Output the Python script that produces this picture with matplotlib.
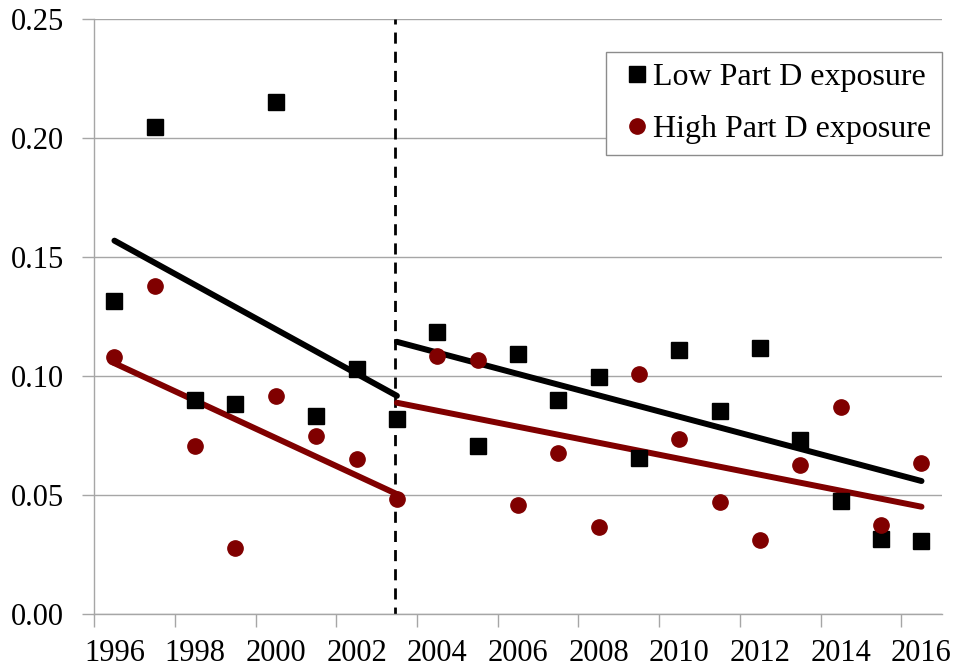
import numpy as np
import matplotlib
matplotlib.use("Agg")
import matplotlib.pyplot as plt

plt.rcParams["font.family"] = ["Liberation Serif", "DejaVu Serif"]

years = np.arange(1996, 2017)

low_exposure = [0.1316, 0.2046, 0.0900, 0.0884, 0.2151, 0.0833, 0.1031,
                0.0821, 0.1185, 0.0708, 0.1094, 0.0900, 0.0998, 0.0655,
                0.1111, 0.0854, 0.1120, 0.0732, 0.0476, 0.0315, 0.0309]
high_exposure = [0.1082, 0.1379, 0.0707, 0.0277, 0.0917, 0.0749, 0.0651,
                 0.0483, 0.1087, 0.1068, 0.0458, 0.0676, 0.0368, 0.1008,
                 0.0737, 0.0473, 0.0312, 0.0626, 0.0872, 0.0375, 0.0634]

# fitted trend endpoints, before / after 2003
trend_pre_x = [1996, 2003]
trend_post_x = [2003, 2016]
low_trend_pre = [0.1570, 0.0918]
low_trend_post = [0.1145, 0.0560]
high_trend_pre = [0.1055, 0.0505]
high_trend_post = [0.0889, 0.0452]

break_year = 2002.95

dark_red = "#800000"
grid_gray = "#a6a6a6"

fig = plt.figure(figsize=(9.56, 6.71), dpi=100)
ax = fig.add_axes([0.0986, 0.0845, 0.8864, 0.8867])

ax.set_xlim(1995.5, 2016.5)
ax.set_ylim(0, 0.25)

ax.set_yticks(np.arange(0, 0.2501, 0.05))
ax.set_yticklabels(["%.2f" % v for v in np.arange(0, 0.2501, 0.05)])
ax.yaxis.grid(True, color=grid_gray, linewidth=1.0)
ax.set_axisbelow(True)

# tick marks between every second category, labels on even years
ax.set_xticks(np.arange(1995.5, 2016, 2))
ax.set_xticklabels([])
ax.set_xticks(years[::2], minor=True)
ax.set_xticklabels([str(y) for y in years[::2]], minor=True)

ax.tick_params(axis="x", which="major", length=9, width=1, color=grid_gray, direction="out")
ax.tick_params(axis="x", which="minor", length=0, pad=18, labelsize=22)
ax.tick_params(axis="y", length=9, width=1, color=grid_gray, direction="out", pad=13, labelsize=22)

for s in ["top", "right"]:
    ax.spines[s].set_visible(False)
for s in ["left", "bottom"]:
    ax.spines[s].set_color(grid_gray)
    ax.spines[s].set_linewidth(1.0)

ax.axvline(break_year, color="black", linestyle=(1.5, (4, 2.9)), linewidth=2, zorder=2)

ax.plot(trend_pre_x, low_trend_pre, color="black", linewidth=4.3, solid_capstyle="round", zorder=3)
ax.plot(trend_post_x, low_trend_post, color="black", linewidth=4.3, solid_capstyle="round", zorder=3)
ax.plot(trend_pre_x, high_trend_pre, color=dark_red, linewidth=4.3, solid_capstyle="round", zorder=3)
ax.plot(trend_post_x, high_trend_post, color=dark_red, linewidth=4.3, solid_capstyle="round", zorder=3)

ax.plot(years, low_exposure, "s", color="black", markersize=11, linestyle="none",
        label="Low Part D exposure", zorder=4)
ax.plot(years, high_exposure, "o", color=dark_red, markersize=11, linestyle="none",
        label="High Part D exposure", zorder=4)

leg = ax.legend(loc="upper right", bbox_to_anchor=(1.0, 0.9455), borderaxespad=0,
                fontsize=23, fancybox=False, framealpha=1, edgecolor="#8c8c8c",
                handlelength=1.24, handletextpad=-0.12, borderpad=0.34,
                labelspacing=0.72, markerscale=1.0)
leg.get_frame().set_linewidth(1.0)

fig.savefig("out.png", dpi=100)
